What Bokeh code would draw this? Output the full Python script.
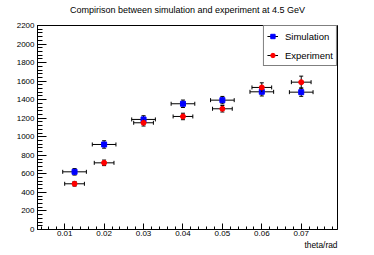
from bokeh.plotting import figure
from bokeh.models import (Range1d, SingleIntervalTicker, PrintfTickFormatter, Whisker, TeeHead,
                          ColumnDataSource, Legend, LegendItem, Title)
from bokeh.embed import file_html
from bokeh.resources import INLINE

# ---- data ----
theta = [0.0125, 0.02, 0.03, 0.04, 0.05, 0.06, 0.07]
sim_y = [622, 917, 1187, 1356, 1395, 1485, 1481]
sim_yerr = [35, 40, 40, 40, 40, 45, 45]
sim_xerr = [0.003, 0.003, 0.003, 0.003, 0.003, 0.003, 0.003]
exp_y = [493, 719, 1151, 1219, 1302, 1532, 1589]
exp_yerr = [25, 30, 35, 35, 35, 50, 65]
exp_xerr = [0.0025, 0.0025, 0.0025, 0.0025, 0.0025, 0.0025, 0.0025]

title_text = "Compirison between simulation and experiment at 4.5 GeV"
x_label = "theta/rad"
x_min, x_max = 0.0031, 0.0792
y_min, y_max = 0, 2200

FONT = "Liberation Sans"


def make_source(x, y, xe, ye):
    return ColumnDataSource(dict(
        x=x, y=y,
        xl=[a - b for a, b in zip(x, xe)], xu=[a + b for a, b in zip(x, xe)],
        yl=[a - b for a, b in zip(y, ye)], yu=[a + b for a, b in zip(y, ye)],
    ))


sim_src = make_source(theta, sim_y, sim_xerr, sim_yerr)
exp_src = make_source(theta, exp_y, exp_xerr, exp_yerr)

p = figure(width=374, height=255, output_backend="svg", toolbar_location=None,
           x_range=Range1d(x_min, x_max), y_range=Range1d(y_min, y_max),
           min_border_left=37, min_border_right=37, min_border_top=25, min_border_bottom=26)
p.xgrid.visible = False
p.ygrid.visible = False
p.outline_line_color = "black"
p.outline_line_width = 1
p.background_fill_color = "white"

# spacer (nearest the frame), then the real title above it
p.add_layout(Title(text=" ", text_font=FONT, text_font_size="8px", standoff=0), "above")
p.add_layout(Title(text=title_text, align="center", text_font=FONT, text_font_size="9px",
                   text_font_style="normal", text_color="black", standoff=0), "above")

p.xaxis.ticker = SingleIntervalTicker(interval=0.01, num_minor_ticks=5)
p.yaxis.ticker = SingleIntervalTicker(interval=200, num_minor_ticks=5)
p.xaxis.formatter = PrintfTickFormatter(format="%.2f")
p.yaxis.formatter = PrintfTickFormatter(format="%d")
for ax in (p.xaxis, p.yaxis):
    ax.axis_line_color = "black"
    ax.major_tick_line_color = "black"
    ax.minor_tick_line_color = "black"
    ax.major_tick_out = 0
    ax.minor_tick_out = 0
    ax.major_label_text_font = FONT
    ax.major_label_text_font_size = "8px"
    ax.major_label_text_color = "black"
p.xaxis.major_label_standoff = 1
p.yaxis.major_label_standoff = 3
p.xaxis.major_tick_in = 6
p.xaxis.minor_tick_in = 3
p.yaxis.major_tick_in = 9
p.yaxis.minor_tick_in = 5

p.add_layout(Title(text=x_label, align="right", text_font=FONT, text_font_size="8.4px",
                   text_font_style="normal", text_color="black", standoff=-2), "below")


def draw(src, color, marker, size):
    xseg = p.segment(x0="xl", y0="y", x1="xu", y1="y", source=src, line_color="black", line_width=1)
    p.segment(x0="x", y0="yl", x1="x", y1="yu", source=src, line_color="black", line_width=1)
    p.add_layout(Whisker(source=src, base="y", lower="xl", upper="xu", dimension="width", line_alpha=0,
                         lower_head=TeeHead(size=4, line_color="black", line_width=1),
                         upper_head=TeeHead(size=4, line_color="black", line_width=1)))
    p.add_layout(Whisker(source=src, base="x", lower="yl", upper="yu", dimension="height", line_alpha=0,
                         lower_head=TeeHead(size=4, line_color="black", line_width=1),
                         upper_head=TeeHead(size=4, line_color="black", line_width=1)))
    pts = p.scatter(x="x", y="y", source=src, marker=marker, size=size,
                    fill_color=color, line_color=color)
    return xseg, pts


sim_seg, sim_pts = draw(sim_src, "#0000ff", "square", 5)
exp_seg, exp_pts = draw(exp_src, "#ff0000", "circle", 5)

legend = Legend(items=[LegendItem(label="Simulation", renderers=[sim_seg, sim_pts]),
                       LegendItem(label="Experiment", renderers=[exp_seg, exp_pts])],
                location="top_right", margin=0, padding=3, spacing=5,
                glyph_width=11, glyph_height=14, label_height=14, label_standoff=7,
                label_text_font=FONT, label_text_font_size="9.5px", label_text_color="black",
                border_line_color="black", border_line_width=1,
                background_fill_color="white", background_fill_alpha=1)
p.add_layout(legend)

open("out.html", "w").write(file_html(p, INLINE))
